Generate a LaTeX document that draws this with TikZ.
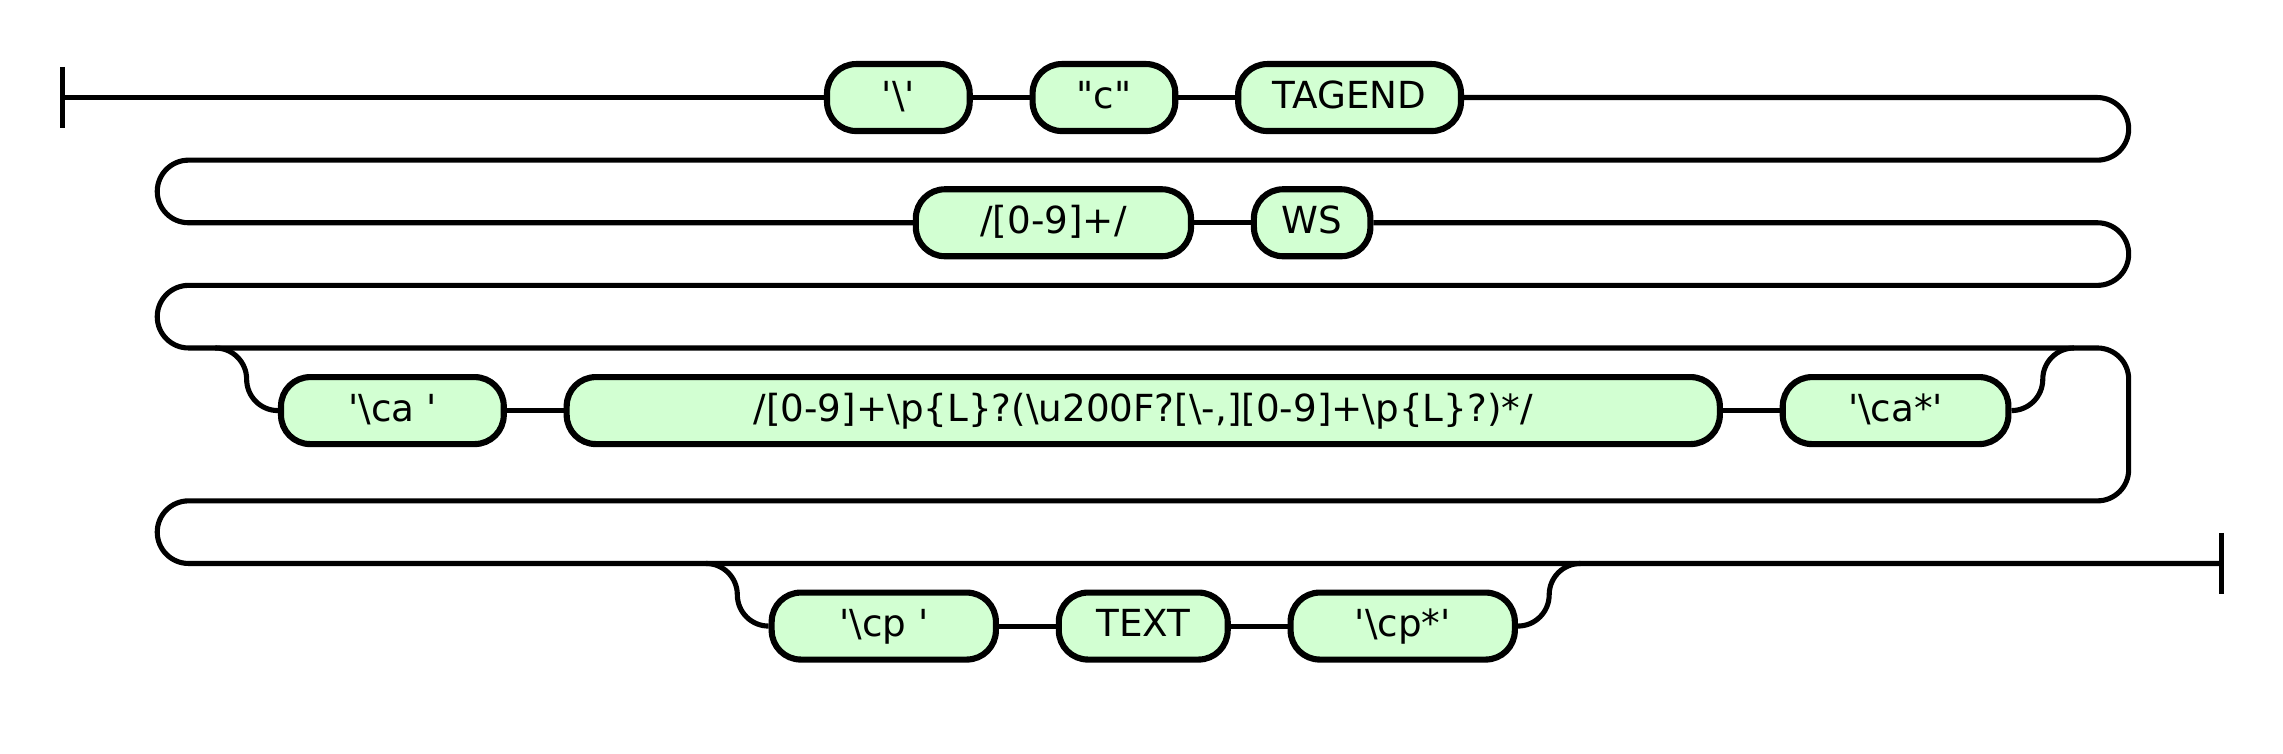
\documentclass[tikz,border=0pt]{standalone}
\usepackage{fontspec}
\newfontfamily\rrfont{DejaVu Sans}
\usetikzlibrary{positioning}
\definecolor{termgreen}{RGB}{210,255,210}

\begin{document}
\begin{tikzpicture}[x=0.5pt,y=-0.5pt,line width=1.75pt,node distance=19.5pt,
  term/.style={draw,fill=termgreen,line width=2.1pt,rounded corners=10pt,minimum height=23pt,inner sep=0pt,
    font=\rrfont\fontsize{12.8}{15}\selectfont,text height=0.9em,text depth=0.17em},
  track/.style={rounded corners=10.75pt}]

  \useasboundingbox (0,0) rectangle (1568,517.2);

  % first row
  \node[term, minimum width=49pt] (bs) at (617,67) {'\textbackslash'};
  \node[term, minimum width=49pt] (c) [right=of bs] {"c"};
  \node[term, minimum width=76.5pt] (tagend) [right=of c] {TAGEND};

  % second row
  \node[term, minimum width=94.5pt] (num) at (723.5,153) {/[0-9]+/};
  \node[term, minimum width=40pt] (ws) [right=of num] {WS};

  % optional ca part
  \node[term, minimum width=76.5pt] (ca) at (269.5,282) {'\textbackslash ca '};
  \node[term, minimum width=396pt] (range) [right=of ca]
    {/[0-9]+\textbackslash p\{L\}?(\textbackslash u200F?[\textbackslash -,][0-9]+\textbackslash p\{L\}?)*/};
  \node[term, minimum width=77.5pt] (caend) [right=of range] {'\textbackslash ca*'};

  % optional cp part
  \node[term, minimum width=77pt] (cp) at (607,430) {'\textbackslash cp '};
  \node[term, minimum width=58pt] (txt) [right=of cp] {TEXT};
  \node[term, minimum width=77pt] (cpend) [right=of txt] {'\textbackslash cp*'};

  \coordinate (start) at (43,67);
  \coordinate (stop) at (1526,387);

  \draw (start) ++(0,-21) -- ++(0,42);
  \draw (stop) ++(0,-21) -- ++(0,42);

  \draw (start) -- (bs.west) (bs.east) -- (c.west) (c.east) -- (tagend.west);
  \draw[track] (tagend.east) -- (1462,67) -- (1462,110) -- (108,110) -- (108,153) -- (num.west);
  \draw (num.east) -- (ws.west);
  \draw[track] (ws.east) -- (1462,153) -- (1462,196) -- (108,196) -- (108,239)
    -- (1462,239) -- (1462,344) -- (108,344) -- (108,387) -- (stop);

  \draw[track] (ca.west) -- ++(-21.5,0) -- ++(0,-43) -- ++(-21.5,0);
  \draw (ca.east) -- (range.west) (range.east) -- (caend.west);
  \draw[track] (caend.east) -- ++(21.5,0) -- ++(0,-43) -- ++(21.5,0);

  \draw[track] (cp.west) -- ++(-21.5,0) -- ++(0,-43) -- ++(-21.5,0);
  \draw (cp.east) -- (txt.west) (txt.east) -- (cpend.west);
  \draw[track] (cpend.east) -- ++(21.5,0) -- ++(0,-43) -- ++(21.5,0);

\end{tikzpicture}
\end{document}
